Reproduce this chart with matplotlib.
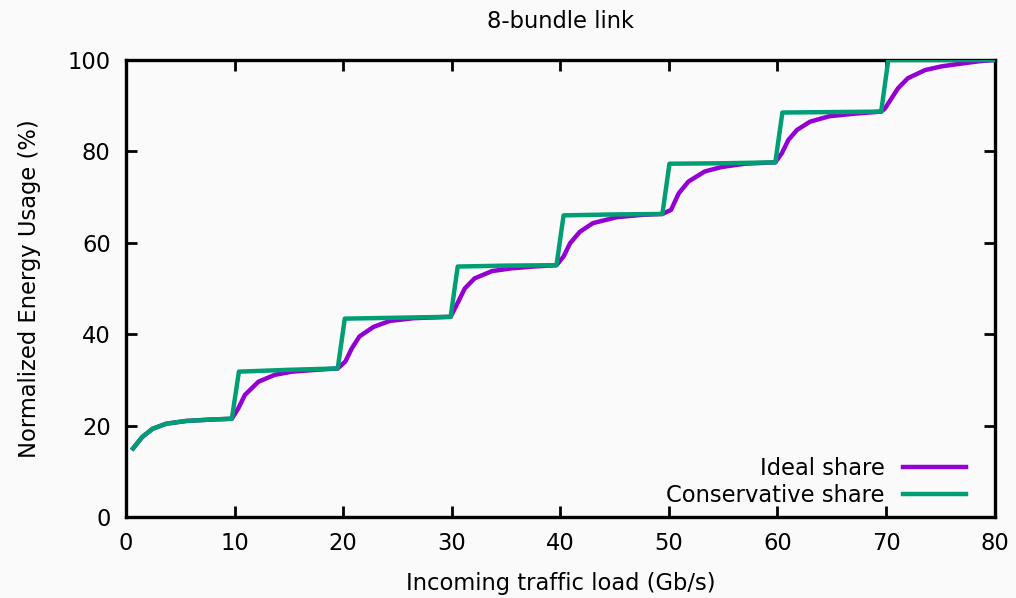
import numpy as np
import matplotlib
matplotlib.use('Agg')
import matplotlib.pyplot as plt

# Ideal share
ideal_x = [0.65, 1.5, 2.45, 3.7, 5.5, 7.7, 9.75,
           10.35, 10.95, 12.2, 13.7, 15.3, 17.5, 19.5,
           20.2, 20.8, 21.5, 22.8, 24.3, 26.5, 29.9,
           30.6, 31.2, 32.1, 33.7, 35.5, 37.5, 39.65,
           40.3, 40.9, 41.8, 43.0, 45.2, 47.5, 49.4,
           50.2, 50.9, 51.8, 53.3, 54.9, 57.0, 59.8,
           60.4, 61.0, 61.8, 63.0, 64.8, 67.3, 69.55,
           69.9, 70.5, 71.1, 72.0, 73.6, 75.1, 76.9, 78.5, 80.0]
ideal_y = [15.0, 17.5, 19.3, 20.4, 21.0, 21.3, 21.5,
           23.8, 26.7, 29.6, 31.1, 31.8, 32.2, 32.5,
           34.0, 36.9, 39.5, 41.6, 42.9, 43.5, 43.8,
           47.1, 50.0, 52.2, 53.8, 54.4, 54.8, 55.1,
           57.0, 59.9, 62.4, 64.3, 65.6, 66.1, 66.3,
           67.2, 70.8, 73.4, 75.6, 76.6, 77.3, 77.6,
           79.6, 82.5, 84.7, 86.5, 87.7, 88.3, 88.7,
           89.4, 91.6, 93.8, 96.0, 97.8, 98.6, 99.2, 99.7, 100.0]

# Conservative share
cons_x = [0.65, 1.5, 2.45, 3.7, 5.5, 7.7, 9.75,
          10.4, 15.0, 19.5,
          20.15, 25.0, 29.9,
          30.55, 35.0, 39.65,
          40.3, 45.0, 49.4,
          50.05, 55.0, 59.8,
          60.45, 65.0, 69.55,
          70.2, 80.0]
cons_y = [15.0, 17.5, 19.3, 20.4, 21.0, 21.3, 21.5,
          31.8, 32.2, 32.5,
          43.4, 43.6, 43.8,
          54.8, 55.0, 55.1,
          66.0, 66.2, 66.3,
          77.3, 77.4, 77.6,
          88.5, 88.6, 88.7,
          100.0, 100.0]

bg = '#fafafa'
fs = 16.3
plt.rcParams['font.family'] = 'DejaVu Sans'
plt.rcParams['font.size'] = fs

fig = plt.figure(figsize=(10.16, 5.98), dpi=100, facecolor=bg)
ax = fig.add_axes([0.124, 0.1355, 0.855, 0.7642], facecolor=bg)

ax.plot(ideal_x, ideal_y, color='#9400d3', lw=3.2, label='Ideal share', zorder=3)
ax.plot(cons_x, cons_y, color='#009e73', lw=3.2, label='Conservative share', zorder=4)

ax.set_xlim(0, 80)
ax.set_ylim(0, 100)
ax.set_xticks(np.arange(0, 81, 10))
ax.set_yticks(np.arange(0, 101, 20))
ax.tick_params(direction='in', length=8, width=2, top=True, right=True,
               labelsize=fs, pad=11)
for s in ax.spines.values():
    s.set_linewidth(2.4)

ax.set_title('8-bundle link', fontsize=fs, pad=23)
ax.set_xlabel('Incoming traffic load (Gb/s)', fontsize=fs, labelpad=12)
ax.set_ylabel('Normalized Energy Usage (%)', fontsize=fs, labelpad=19)

ax.legend(loc='lower right', bbox_to_anchor=(0.978, 0.003), frameon=False,
          markerfirst=False, fontsize=fs, handlelength=2.8, handletextpad=0.8,
          labelspacing=0.17, borderaxespad=0)

fig.savefig('out.png', dpi=100, facecolor=bg)
